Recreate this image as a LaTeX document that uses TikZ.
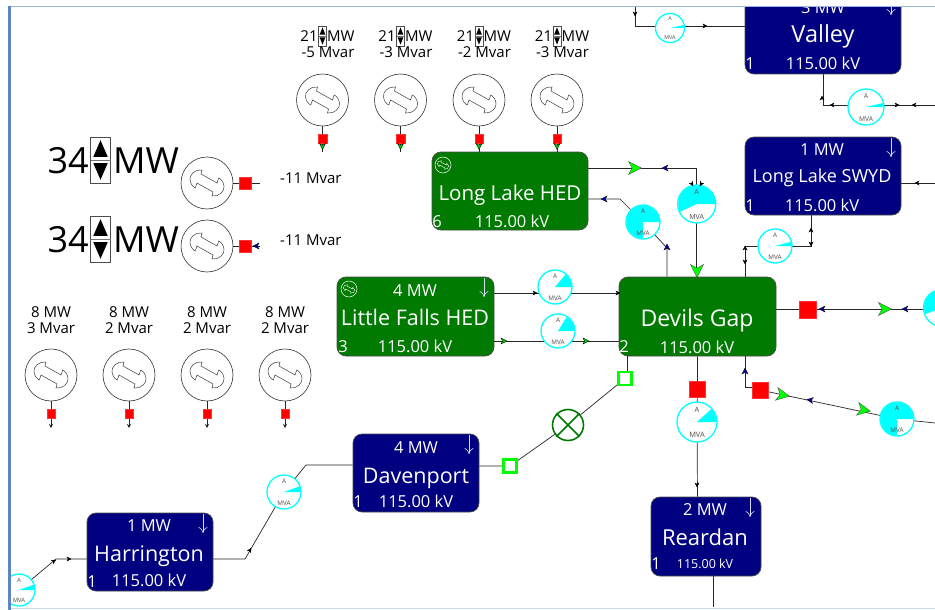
\documentclass[tikz,border=0pt]{standalone}
\usepackage{fontspec}
\setmainfont{Open Sans}
\usepackage{tikz}
\usetikzlibrary{arrows.meta,backgrounds}
\definecolor{hydrogreen}{RGB}{0,122,0}
\definecolor{busnavy}{RGB}{0,0,128}
\definecolor{mvacyan}{RGB}{0,255,255}
\definecolor{tielime}{RGB}{0,255,0}
\definecolor{framblue}{RGB}{91,134,197}
\definecolor{framgray}{RGB}{205,218,232}
\newcommand{\fsz}[1]{\fontsize{#1}{#1}\selectfont}
\newcommand{\bus}[6]{\node[busbox,fill=#6,minimum width={(#4-#2)*1pt},minimum height={(#5-#3)*1pt}] (#1) at ({(#2+#4)/2},{(#3+#5)/2}) {};}
\newcommand{\rotor}[5]{\draw[#1,shift={(#2,#3)},scale=#4,line width=#5]
  (-5,-13) .. controls (-12,-14) and (-18,-8) .. (-17,-3) .. controls (-16.5,1) and (-14,4) .. (-11.7,5) -- (-10,0) -- (6,9) -- (5,13)
  .. controls (12,14) and (18,8) .. (17,3) .. controls (16.5,-1) and (14,-4) .. (11.7,-5) -- (10,0) -- (-6,-9) -- cycle;}
\newcommand{\gen}[3]{\node[genring] (#1) at (#2,#3) {}; \rotor{black!75}{#2}{#3}{1}{.5pt}}
\newcommand{\dial}[5]{\node[mring,minimum size={2*#4*1pt}] (#1) at (#2,#3) {};
  \fill[mvacyan] (#2,#3) -- ({#2+#4-.5},#3) arc[start angle=0,end angle=#5,radius={(#4-.5)*1pt}] -- cycle;}
\newcommand{\meter}[5]{\dial{#1}{#2}{#3}{#4}{#5}
  \pgfmathsetmacro\mfs{#4*.37}
  \node[mtxt,font=\fsz{\mfs}] (#1a) at (#2,{#3-.62*#4}) {A};
  \node[mtxt,font=\fsz{\mfs}] (#1v) at (#2,{#3+.66*#4}) {MVA};}
\newcommand{\spinner}[5]{\node[spinbox,minimum width={#4*1pt},minimum height={#5*1pt}] (#1) at (#2,#3) {};
  \fill[black] (#2,{#3-.43*#5}) -- ({#2+.36*#4},{#3-.07*#5}) -- ({#2-.36*#4},{#3-.07*#5}) -- cycle;
  \fill[black] (#2,{#3+.43*#5}) -- ({#2+.36*#4},{#3+.07*#5}) -- ({#2-.36*#4},{#3+.07*#5}) -- cycle;
  \draw[black!55] ({#2-.5*#4},#3) -- ({#2+.5*#4},#3);}
\newcommand{\flow}[4]{\draw[shift={(#2,#3)},rotate=#4,#1] (-1,-1) -- (1,0) -- (-1,1) -- (-.45,0) -- cycle;}
\begin{document}
\begin{tikzpicture}[x=1pt,y=-1pt,
    busbox/.style={draw=black!70,line width=.7pt,rounded corners=9pt,inner sep=0pt},
    genring/.style={circle,draw=black!80,line width=.6pt,fill=white,minimum size=52pt,inner sep=0pt},
    mring/.style={circle,draw=mvacyan,line width=1.3pt,fill=white,inner sep=0pt},
    mtxt/.style={text=black!70,inner sep=0pt},
    spinbox/.style={draw=black!70,fill=white,line width=.6pt,inner sep=0pt},
    redsq/.style={fill=red,draw=red!80!white,line width=.3pt,inner sep=0pt},
    limesq/.style={draw=tielime,fill=white,line width=2.3pt,minimum size=13pt,inner sep=0pt},
    tripx/.style={circle,draw=hydrogreen,fill=white,line width=1.6pt,minimum size=31pt,inner sep=0pt},
    wire/.style={black!85,line width=.7pt},
    flowbig/.style={fill=tielime,draw=black!70,line width=.35pt,scale=6.5},
    flowmid/.style={fill=tielime!80!black,draw=black,line width=.35pt,scale=3},
    flowblue/.style={fill=blue!70!black,draw=black,line width=.3pt,scale=3},
    flowtiny/.style={fill=black,draw=black,line width=.3pt,scale=2},
    loadarr/.style={white!85!blue,line width=.6pt,-{To[length=6pt,width=9pt]}},
    stubarr/.style={wire,-{Stealth[length=4pt,width=4pt]}},
    whtxt/.style={text=white,inner sep=0pt,anchor=base},
    blktxt/.style={text=black,inner sep=0pt},
    bigtxt/.style={whtxt,font=\fsz{21.5}},
    numtxt/.style={whtxt,font=\fsz{16.5}},
    gentxt/.style={blktxt,font=\fsz{15}},
    huge/.style={blktxt,font=\fsz{36}},
  ]
  \useasboundingbox (0,0) rectangle (935,610);

  \bus{valley}{745}{-4}{901}{74}{busnavy}
  \bus{swyd}{745}{137}{901}{215}{busnavy}
  \bus{hed}{432}{152}{588}{230}{hydrogreen}
  \bus{lfalls}{337}{277}{494}{356}{hydrogreen}
  \bus{devils}{619}{277}{776}{356}{hydrogreen}
  \bus{davenport}{353}{434}{479}{512}{busnavy}
  \bus{harrington}{87}{513}{213}{591}{busnavy}
  \bus{reardan}{651}{497}{761}{576}{busnavy}

  \node[numtxt] (valleymw) at (823,14) {3 MW};
  \node[bigtxt,font=\fsz{23.5}] (valleyname) at (823,43) {Valley};
  \node[numtxt] (valleykv) at (823,70) {115.00 kV};
  \node[numtxt] (valleyid) at (750,70) {1};
  \draw[loadarr] (891,-4) -- (891,15);
  \node[numtxt] (swydmw) at (822,155) {1 MW};
  \node[bigtxt,font=\fsz{18}] (swydname) at (822,182) {Long Lake SWYD};
  \node[numtxt] (swydkv) at (822,211) {115.00 kV};
  \node[numtxt] (swydid) at (750,211) {1};
  \draw[loadarr] (891,138) -- (891,157);
  \node[bigtxt,font=\fsz{20.5}] (hedname) at (510,200) {Long Lake HED};
  \node[numtxt] (hedkv) at (512,227) {115.00 kV};
  \node[numtxt] (hedid) at (437,227) {6};
  \node[circle,draw=white,line width=.5pt,minimum size=16pt,inner sep=0pt] (hedicon) at (443,165) {};
  \rotor{white}{443}{165}{.33}{.4pt}
  \node[numtxt] (lfallsmw) at (415,296) {4 MW};
  \node[bigtxt] (lfallsname) at (415,325) {Little Falls HED};
  \node[numtxt] (lfallskv) at (415,352) {115.00 kV};
  \node[numtxt] (lfallsid) at (343,352) {3};
  \node[circle,draw=white,line width=.5pt,minimum size=16pt,inner sep=0pt] (lfallsicon) at (349,289) {};
  \rotor{white}{349}{289}{.33}{.4pt}
  \draw[loadarr] (484,278) -- (484,297);
  \node[bigtxt,font=\fsz{23}] (devilsname) at (697,326) {Devils Gap};
  \node[numtxt] (devilskv) at (697,353) {115.00 kV};
  \node[numtxt] (devilsid) at (624,352) {2};
  \node[numtxt] (davenportmw) at (416,453) {4 MW};
  \node[bigtxt] (davenportname) at (416,483) {Davenport};
  \node[numtxt] (davenportkv) at (416,507) {115.00 kV};
  \node[numtxt] (davenportid) at (358,507) {1};
  \draw[loadarr] (469,435) -- (469,454);
  \node[numtxt] (harringtonmw) at (149,531) {1 MW};
  \node[bigtxt] (harringtonname) at (149,561) {Harrington};
  \node[numtxt] (harringtonkv) at (149,586) {115.00 kV};
  \node[numtxt] (harringtonid) at (92,587) {1};
  \draw[loadarr] (203,514) -- (203,533);
  \node[numtxt] (reardanmw) at (705,515) {2 MW};
  \node[bigtxt,font=\fsz{22}] (reardanname) at (705,545) {Reardan};
  \node[whtxt,font=\fsz{12.5}] (reardankv) at (705,568) {115.00 kV};
  \node[numtxt] (reardanid) at (656,569) {1};
  \draw[loadarr] (750,498) -- (750,517);

  \gen{gena}{322.5}{100}
  \gen{genb}{400.5}{100}
  \gen{genc}{479}{100}
  \gen{gend}{557}{100}
  \gen{gene}{207}{183}
  \gen{genf}{207}{246}
  \gen{geng}{51}{375}
  \gen{genh}{129}{375}
  \gen{geni}{207}{375}
  \gen{genj}{285}{375}

  \node[redsq,minimum size=8.5pt] (sqa) at (322.5,138.5) {};
  \node[redsq,minimum size=8.5pt] (sqb) at (400.5,138.5) {};
  \node[redsq,minimum size=8.5pt] (sqc) at (479,138.5) {};
  \node[redsq,minimum size=8.5pt] (sqd) at (557,138.5) {};
  \node[redsq,minimum size=12.5pt] (sqe) at (245,183) {};
  \node[redsq,minimum size=12.5pt] (sqf) at (245,246) {};
  \node[redsq,minimum size=8.5pt] (sqg) at (51,413.5) {};
  \node[redsq,minimum size=8.5pt] (sqh) at (129,413.5) {};
  \node[redsq,minimum size=8.5pt] (sqi) at (207,413.5) {};
  \node[redsq,minimum size=8.5pt] (sqj) at (285,413.5) {};
  \node[redsq,minimum size=16.5pt] (sqright) at (807.5,309.5) {};
  \node[redsq,minimum size=16pt] (sqlower) at (760,390) {};
  \node[redsq,minimum size=16pt] (sqbottom) at (697.5,389) {};
  \node[limesq] (tieup) at (625,378.5) {};
  \node[limesq] (tiedown) at (510,466) {};
  \node[tripx] (trip) at (568,425) {};
  \draw[hydrogreen,line width=1.6pt] (trip.north west) -- (trip.south east) (trip.north east) -- (trip.south west);

  \meter{mvalley}{670}{28}{14.5}{12}
  \meter{mvalb}{866}{107}{18}{13}
  \meter{mswyd}{775}{246}{17}{15}
  \meter{mhedt}{696.7}{204}{19}{205}
  \meter{mhedb}{643}{222}{17}{270}
  \meter{mlfa}{555}{287}{17}{50}
  \meter{mlfb}{558}{331}{17}{58}
  \dial{mright}{942}{308}{18.5}{200}
  \meter{mlower}{897}{419}{17}{270}
  \meter{mbottom}{697}{422}{20}{42}
  \meter{mdav}{284}{492}{17}{20}
  \meter{mharr}{19}{590}{16}{20}

  \node[gentxt] (mwa) at (309,36) {21};
  \node[gentxt] (mwb) at (387,36) {21};
  \node[gentxt] (mwc) at (465.5,36) {21};
  \node[gentxt] (mwd) at (543.5,36) {21};
  \spinner{spa}{322.5}{36}{8}{20}
  \spinner{spb}{400.5}{36}{8}{20}
  \spinner{spc}{479}{36}{8}{20}
  \spinner{spd}{557}{36}{8}{20}
  \node[gentxt,anchor=west] (mwua) at (327,36) {MW};
  \node[gentxt,anchor=west] (mwub) at (405,36) {MW};
  \node[gentxt,anchor=west] (mwuc) at (483.5,36) {MW};
  \node[gentxt,anchor=west] (mwud) at (561.5,36) {MW};
  \node[gentxt] (vara) at (328,52.5) {-5 Mvar};
  \node[gentxt] (varb) at (406,52.5) {-3 Mvar};
  \node[gentxt] (varc) at (484.5,52.5) {-2 Mvar};
  \node[gentxt] (vard) at (562.5,52.5) {-3 Mvar};

  \node[huge,anchor=east] (mwe) at (89,161) {34};
  \node[huge,anchor=east] (mwf) at (89,240) {34};
  \spinner{spe}{100.5}{160}{20}{46}
  \spinner{spf}{100.5}{239}{20}{46}
  \node[huge,anchor=west] (mweu) at (113,161) {MW};
  \node[huge,anchor=west] (mwfu) at (113,240) {MW};
  \node[gentxt,anchor=west] (vare) at (280,178) {-11 Mvar};
  \node[gentxt,anchor=west] (varf) at (280,240.5) {-11 Mvar};

  \node[gentxt] (mwg) at (51,312) {8 MW};
  \node[gentxt] (mwh) at (129,312) {8 MW};
  \node[gentxt] (mwi) at (207,312) {8 MW};
  \node[gentxt] (mwj) at (285,312) {8 MW};
  \node[gentxt] (varg) at (51,328) {3 Mvar};
  \node[gentxt] (varh) at (129,328) {2 Mvar};
  \node[gentxt] (vari) at (207,328) {2 Mvar};
  \node[gentxt] (varj) at (285,328) {2 Mvar};

  \coordinate (vtop) at (635,7);
  \coordinate (vbend) at (635,26);
  \coordinate (vdown) at (823,105);
  \coordinate (vout) at (935,105);
  \coordinate (swout) at (935,183);
  \coordinate (swa) at (811,246);
  \coordinate (swb) at (745,246);
  \coordinate (hedt) at (696.7,168);
  \coordinate (hedc) at (620,199);
  \coordinate (hedd) at (667,248);
  \coordinate (lfa) at (555,293);
  \coordinate (lfb) at (558,341);
  \coordinate (rout) at (935,309);
  \coordinate (lowa) at (745,387);
  \coordinate (lowb) at (935,423);
  \coordinate (rdout) at (713,607);
  \coordinate (tiea) at (627.5,378);
  \coordinate (dava) at (306,465);
  \coordinate (davb) at (245,559);
  \coordinate (hara) at (56,559);
  \coordinate (enda) at (322.5,152);
  \coordinate (endb) at (400.5,152);
  \coordinate (ende) at (260,183);
  \coordinate (endf) at (260,246);
  \coordinate (endg) at (51,428);
  \coordinate (endh) at (129,428);
  \coordinate (endi) at (207,428);
  \coordinate (endj) at (285,428);

  \begin{scope}[on background layer]
    \draw[wire] (vtop) -- (vbend) -- (valley.west |- vbend);
    \draw[wire] (valley.south) -- (vdown) -- (vout);
    \draw[wire] (swyd.east |- swout) -- (swout);
    \draw[wire] (swyd.south -| swa) -- (swa) -- (swb) -- (devils.north -| swb);
    \draw[wire] (hed.east |- hedt) -- (hedt) -- (devils.north -| hedt);
    \draw[wire] (hed.east |- hedc) -- (hedc) -- (mhedb.center) -- (hedd) -- (devils.north -| hedd);
    \draw[wire] (lfalls.east |- lfa) -- (devils.west |- lfa);
    \draw[wire] (lfalls.east |- lfb) -- (devils.west |- lfb);
    \draw[wire] (devils.east |- rout) -- (rout);
    \draw[wire] (devils.south -| lowa) -- (lowa) -- (sqlower.west |- lowa);
    \draw[wire] (sqlower) -- (mlower.center) -- (lowb);
    \draw[wire] (devils.south) -- (sqbottom) -- (mbottom.center) -- (reardan.north -| devils.south);
    \draw[wire] (reardan.south -| rdout) -- (rdout);
    \draw[wire] (devils.south -| tiea) -- (tiea);
    \draw[wire] (tieup) -- (trip) -- (tiedown) -- (davenport.east |- tiedown);
    \draw[wire] (davenport.west |- dava) -- (dava) -- (mdav.center) -- (davb) -- (harrington.east |- davb);
    \draw[wire] (harrington.west |- hara) -- (hara) -- (mharr.center);
    \draw[wire] (gena) -- (enda);
    \draw[wire] (genb) -- (endb);
    \draw[wire] (genc) -- (hed.north -| genc);
    \draw[wire] (gend) -- (hed.north -| gend);
    \draw[wire] (gene) -- (ende);
    \draw[wire] (genf) -- (endf);
    \draw[stubarr] (geng) -- (endg);
    \draw[stubarr] (genh) -- (endh);
    \draw[stubarr] (geni) -- (endi);
    \draw[stubarr] (genj) -- (endj);
  \end{scope}

  \flow{flowmid}{322.5}{146.5}{-90}
  \flow{flowmid}{400.5}{146.5}{-90}
  \flow{flowmid}{479}{146.5}{-90}
  \flow{flowmid}{557}{146.5}{-90}
  \flow{flowblue}{256}{246}{180}
  \flow{flowbig}{635}{168}{0}
  \flow{flowblue}{665}{168}{180}
  \flow{flowtiny}{692}{184}{-60}
  \flow{flowtiny}{701}{184}{-120}
  \flow{flowbig}{697}{271}{-90}
  \flow{flowblue}{604}{199}{180}
  \flow{flowblue}{667}{247}{90}
  \flow{flowtiny}{535}{293}{0}
  \flow{flowtiny}{618}{293}{0}
  \flow{flowmid}{504}{341}{0}
  \flow{flowmid}{586}{341}{0}
  \flow{flowblue}{822}{309}{180}
  \flow{flowbig}{885}{309}{0}
  \flow{flowblue}{905}{309}{180}
  \flow{flowblue}{745}{371}{90}
  \flow{flowbig}{783}{395}{-10}
  \flow{flowblue}{810}{400}{170}
  \flow{flowbig}{864}{410}{-10}
  \flow{flowtiny}{697}{485}{-90}
  \flow{flowtiny}{635}{14}{-90}
  \flow{flowtiny}{705}{26}{0}
  \flow{flowtiny}{822}{98}{90}
  \flow{flowtiny}{832}{105}{180}
  \flow{flowtiny}{897}{105}{0}
  \flow{flowtiny}{914}{105}{180}
  \flow{flowtiny}{917}{183}{180}
  \flow{flowtiny}{811}{230}{90}
  \flow{flowtiny}{811}{244}{-90}
  \flow{flowtiny}{745}{248}{90}
  \flow{flowtiny}{745}{262}{-90}
  \flow{flowtiny}{250}{550}{60}
  \flow{flowtiny}{69}{559}{0}
  \flow{flowtiny}{54}{561}{30}

  \fill[white] (0,0) rectangle (935,6) (0,0) rectangle (8,610) (0,608.5) rectangle (935,610);
  \fill[framblue!60!white] (8,6) rectangle (935,7.5);
  \fill[framblue] (8,6) rectangle (10.5,610);
  \fill[framgray] (10.5,607.5) rectangle (935,609);
\end{tikzpicture}
\end{document}
